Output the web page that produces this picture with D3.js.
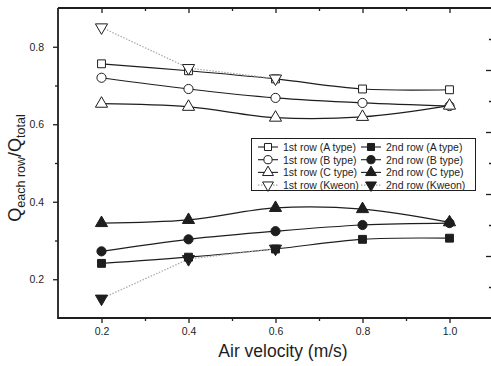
<!DOCTYPE html>
<html>
<head>
<meta charset="utf-8">
<script src="https://cdn.jsdelivr.net/npm/d3@7"></script>
<style>
  body { margin: 0; background: #fff; }
  svg { display: block; }
  text { font-family: Arial, "Liberation Sans", sans-serif; fill: #1e1e1e; }
</style>
</head>
<body>
<svg width="491" height="366"></svg>
<script>

// air velocity (m/s)
const velocity = [0.2, 0.4, 0.6, 0.8, 1.0]
const kweonVelocity = [0.2, 0.4, 0.6]

// Q each row / Q total
const firstA = [0.756, 0.738, 0.717, 0.691, 0.689]
const firstB = [0.720, 0.691, 0.668, 0.655, 0.647]
const firstC = [0.653, 0.645, 0.617, 0.619, 0.648]
const firstKweon = [0.850, 0.745, 0.718]
const secondA = [0.241, 0.257, 0.278, 0.303, 0.306]
const secondB = [0.272, 0.303, 0.324, 0.340, 0.345]
const secondC = [0.345, 0.353, 0.384, 0.381, 0.347]
const secondKweon = [0.150, 0.252, 0.279]

const xTicks = [0.2, 0.4, 0.6, 0.8, 1.0]
const xMinorTicks = [0.3, 0.5, 0.7, 0.9]
const yTicks = [0.2, 0.4, 0.6, 0.8]
const yMinorTicks = [0.3, 0.5, 0.7]
// ticks of the neighbouring (cut off) right axis
const rightTicks = [2, 4, 6, 8]
const rightMinorTicks = [1, 3, 5, 7, 9]

const series = [
  { label: "1st row (A type)", x: velocity, y: firstA, shape: "square", filled: false, kweon: false },
  { label: "1st row (B type)", x: velocity, y: firstB, shape: "circle", filled: false, kweon: false },
  { label: "1st row (C type)", x: velocity, y: firstC, shape: "up", filled: false, kweon: false },
  { label: "1st row (Kweon)", x: kweonVelocity, y: firstKweon, shape: "down", filled: false, kweon: true },
  { label: "2nd row (A type)", x: velocity, y: secondA, shape: "square", filled: true, kweon: false },
  { label: "2nd row (B type)", x: velocity, y: secondB, shape: "circle", filled: true, kweon: false },
  { label: "2nd row (C type)", x: velocity, y: secondC, shape: "up", filled: true, kweon: false },
  { label: "2nd row (Kweon)", x: kweonVelocity, y: secondKweon, shape: "down", filled: true, kweon: true },
]
// marker drawing order (2nd row Kweon sits under the squares)
const markerOrder = [7, 0, 1, 2, 3, 4, 5, 6]

const ink = "#1e1e1e"
const svg = d3.select("svg")

const x = d3.scaleLinear().domain([0.1, 1.1]).range([58, 493])
const y = d3.scaleLinear().domain([0.1, 0.9]).range([318, 8])
const yRight = d3.scaleLinear().domain([0, 10]).range([318, 8])

const symbolGen = {
  square: d3.symbol().type(d3.symbolSquare),
  circle: d3.symbol().type(d3.symbolCircle),
  up: d3.symbol().type(d3.symbolTriangle),
  down: d3.symbol().type(d3.symbolTriangle),
}
const symbolSize = { square: 62, circle: 66, up: 64, down: 64 }

function drawSymbol(g, shape, filled, cx, cy, scale) {
  g.append("path")
    .attr("d", symbolGen[shape].size(symbolSize[shape] * scale)())
    .attr("transform", `translate(${cx},${cy})` + (shape === "down" ? " rotate(180)" : ""))
    .attr("fill", filled ? ink : "#fff")
    .attr("stroke", ink)
    .attr("stroke-width", 1)
}

// axes
function styleAxis(g) {
  g.selectAll("line").attr("stroke", ink).attr("stroke-width", 1.3)
  g.selectAll("text").style("font-size", "10.5px").attr("fill", ink)
  g.select(".domain").remove()
}

svg.append("g").attr("transform", "translate(0,318)")
  .call(d3.axisBottom(x).tickValues(xTicks).tickSize(5).tickPadding(5).tickFormat(d3.format(".1f")))
  .call(styleAxis)
svg.append("g").attr("transform", "translate(0,318)")
  .call(d3.axisBottom(x).tickValues(xMinorTicks).tickSize(3).tickFormat(""))
  .call(styleAxis)
svg.append("g").attr("transform", "translate(0,8)")
  .call(d3.axisTop(x).tickValues(xTicks).tickSize(-5).tickFormat(""))
  .call(styleAxis)
svg.append("g").attr("transform", "translate(0,8)")
  .call(d3.axisTop(x).tickValues(xMinorTicks).tickSize(-3).tickFormat(""))
  .call(styleAxis)
svg.append("g").attr("transform", "translate(58,0)")
  .call(d3.axisLeft(y).tickValues(yTicks).tickSize(5).tickPadding(9).tickFormat(d3.format(".1f")))
  .call(styleAxis)
svg.append("g").attr("transform", "translate(58,0)")
  .call(d3.axisLeft(y).tickValues(yMinorTicks).tickSize(3).tickFormat(""))
  .call(styleAxis)
svg.append("g").attr("transform", "translate(491,0)")
  .call(d3.axisLeft(yRight).tickValues(rightTicks).tickSize(5).tickFormat(""))
  .call(styleAxis)
svg.append("g").attr("transform", "translate(491,0)")
  .call(d3.axisLeft(yRight).tickValues(rightMinorTicks).tickSize(2).tickFormat(""))
  .call(styleAxis)

// frame
const frame = svg.append("g").attr("stroke", ink).attr("stroke-width", 1.8)
frame.append("line").attr("x1", x.range()[0]).attr("x2", x.range()[0]).attr("y1", y.range()[0] + 1).attr("y2", y.range()[1])
frame.append("line").attr("x1", x.range()[0]).attr("x2", x.range()[1]).attr("y1", y.range()[0]).attr("y2", y.range()[0])
frame.append("line").attr("x1", x.range()[0]).attr("x2", x.range()[1]).attr("y1", y.range()[1]).attr("y2", y.range()[1])

// lines
const smooth = d3.line().x(d => x(d[0])).y(d => y(d[1])).curve(d3.curveCatmullRom.alpha(0.5))
const straight = d3.line().x(d => x(d[0])).y(d => y(d[1]))

series.forEach(s => {
  const pts = s.x.map((v, i) => [v, s.y[i]])
  svg.append("path")
    .attr("d", s.kweon ? straight(pts) : smooth(pts))
    .attr("fill", "none")
    .attr("stroke", s.kweon ? "#a8a8a8" : ink)
    .attr("stroke-width", 1.2)
    .attr("stroke-dasharray", s.kweon ? "1.5,1.5" : null)
})

// markers
markerOrder.forEach(k => {
  const s = series[k]
  const g = svg.append("g")
  s.x.forEach((v, i) => drawSymbol(g, s.shape, s.filled, x(v), y(s.y[i]), 1))
})

// legend
const legend = svg.append("g")
legend.append("rect")
  .attr("x", 251.5).attr("y", 138.5).attr("width", 224).attr("height", 52)
  .attr("fill", "#fff").attr("stroke", ink).attr("stroke-width", 1)

series.forEach((s, i) => {
  const col = i < 4 ? 0 : 1
  const row = i % 4
  const cx = col === 0 ? 268 : 371
  const cy = 147 + row * 12.7
  legend.append("line")
    .attr("x1", cx - 10).attr("x2", cx + 10).attr("y1", cy).attr("y2", cy)
    .attr("stroke", s.kweon ? "#a8a8a8" : ink)
    .attr("stroke-width", 1.1)
    .attr("stroke-dasharray", s.kweon ? "1.5,1.5" : null)
  drawSymbol(legend, s.shape, s.filled, cx, cy, 0.8)
  legend.append("text")
    .attr("x", cx + 15).attr("y", cy + 3.8)
    .style("font-size", "10.5px")
    .text(s.label)
})

// axis titles
svg.append("text")
  .attr("x", 283).attr("y", 357)
  .attr("text-anchor", "middle")
  .style("font-size", "17.5px")
  .text("Air velocity (m/s)")

const yTitle = svg.append("text")
  .attr("transform", "translate(21,168) rotate(-90)")
  .attr("text-anchor", "middle")
  .style("font-size", "18px")
yTitle.append("tspan").text("Q")
yTitle.append("tspan").attr("dy", 4).style("font-size", "12.5px").text("each row")
yTitle.append("tspan").attr("dy", -4).text("/Q")
yTitle.append("tspan").attr("dy", 4).style("font-size", "12.5px").text("total")

</script>
</body>
</html>
